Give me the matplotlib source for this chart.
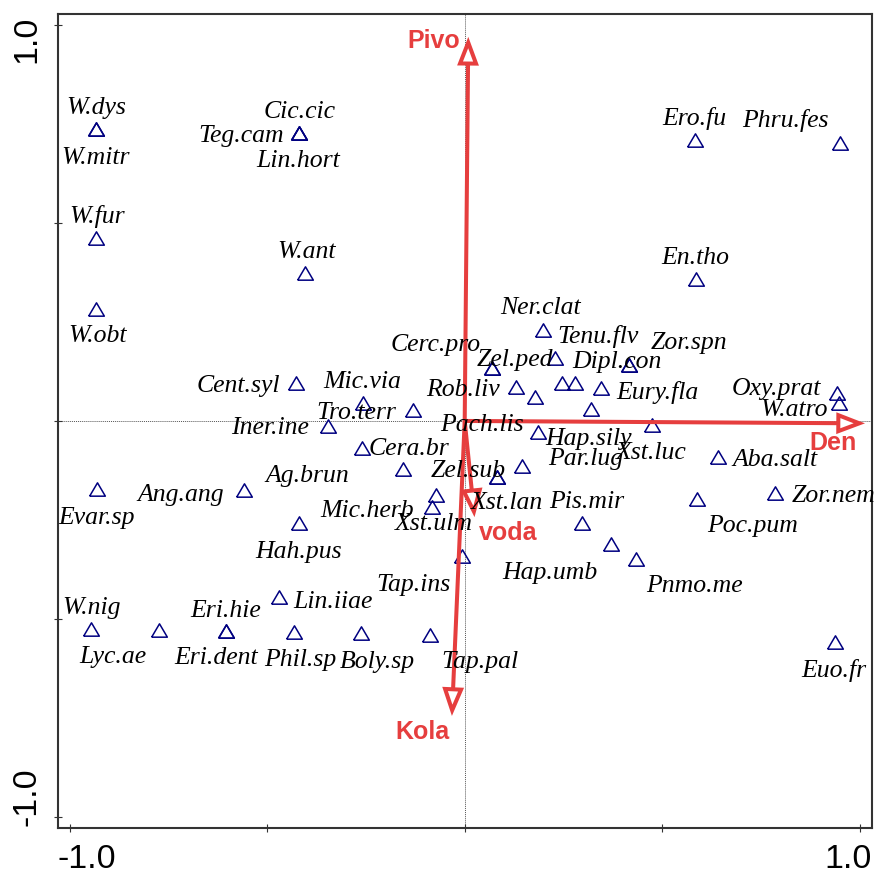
import numpy as np
import matplotlib
matplotlib.use('Agg')
import matplotlib.pyplot as plt
from matplotlib.lines import Line2D
from matplotlib.patches import Polygon
from matplotlib.transforms import IdentityTransform

# species scores on the first two ordination axes
species = ['W.dys', 'W.mitr', 'Cic.cic', 'Teg.cam', 'Lin.hort', 'W.fur', 'W.ant', 'W.obt',
           'Ero.fu', 'Phru.fes', 'En.tho', 'Ner.clat', 'Tenu.flv', 'Cerc.pro', 'Zel.ped',
           'Dipl.con', 'Zor.spn', 'Cent.syl', 'Mic.via', 'Tro.terr', 'Iner.ine', 'Rob.liv',
           'Pach.lis', '', '', 'Eury.fla', '', 'Xst.luc', 'Hap.sily', 'Oxy.prat', 'W.atro',
           'Aba.salt', 'Zor.nem', 'Poc.pum', 'Pis.mir', 'Hap.umb', 'Pnmo.me', 'Cera.br',
           'Ag.brun', 'Par.lug', 'Zel.sub', 'Xst.lan', 'Mic.herb', 'Xst.ulm', 'Tap.ins',
           'Evar.sp', 'Ang.ang', 'Hah.pus', 'Lin.iiae', 'W.nig', 'Lyc.ae', 'Eri.hie',
           'Eri.dent', 'Phil.sp', 'Boly.sp', 'Tap.pal', 'Euo.fr']
sp_x = [-0.933, -0.933, -0.420, -0.420, -0.420, -0.933, -0.403, -0.932,
        0.583, 0.950, 0.585, 0.197, 0.228, 0.070, 0.070,
        0.417, 0.417, -0.426, -0.257, -0.132, -0.346, 0.129,
        0.177, 0.246, 0.279, 0.344, 0.320, 0.473, 0.185, 0.943, 0.948,
        0.642, 0.785, 0.587, 0.298, 0.370, 0.434, -0.260,
        -0.156, 0.145, 0.083, 0.083, -0.073, -0.083, -0.006,
        -0.930, -0.558, -0.419, -0.470, -0.945, -0.774, -0.603,
        -0.603, -0.431, -0.262, -0.089, 0.937]
sp_y = [0.737, 0.737, 0.727, 0.727, 0.727, 0.463, 0.374, 0.282,
        0.710, 0.703, 0.358, 0.230, 0.158, 0.133, 0.133,
        0.141, 0.141, 0.097, 0.045, 0.028, -0.013, 0.085,
        0.060, 0.095, 0.095, 0.083, 0.030, -0.010, -0.027, 0.071, 0.045,
        -0.090, -0.183, -0.198, -0.258, -0.311, -0.349, -0.069,
        -0.122, -0.115, -0.141, -0.141, -0.186, -0.218, -0.341,
        -0.172, -0.174, -0.257, -0.444, -0.526, -0.528, -0.530,
        -0.530, -0.534, -0.536, -0.540, -0.557]

# environmental variables (arrow tips)
env_names = ['Pivo', 'Den', 'Kola', 'voda']
env_x = [0.009, 1.005, -0.032, 0.024]
env_y = [0.962, -0.006, -0.737, -0.235]

# label placement, offsets in pixels from the point
sp_lab_off = [(0, 21), (0, -29), (1, 21), (-58, -3), (-1, -28), (1, 21), (1, 21), (1, -27),
              (-1, 21), (-55, 22), (-1, 21), (-2, 22), (43, 22), (-57, 23), (23, 8),
              (-12, 3), (60, 22), (-58, -3), (-1, 21), (-56, -3), (-58, -2), (-53, -3),
              (-53, -28), (0, 0), (0, 0), (57, -4), (0, 0), (0, -28), (51, -7), (-61, 4), (-45, -7),
              (57, -3), (59, -3), (56, -27), (4, 21), (-61, -29), (58, -27), (47, -1),
              (-96, -7), (64, 7), (-29, 6), (9, -26), (-69, -16), (2, -17), (-49, -29),
              (-1, -29), (-63, -5), (-1, -29), (54, -5), (0, 21), (-46, -27), (-1, 20),
              (-10, -27), (6, -28), (16, -29), (50, -27), (-1, -29)]
env_lab_off = [(-35, -1), (-29, -20), (-30, -19), (34, -19)]

red = '#E63E3E'
navy = '#000080'

fig = plt.figure(figsize=(8.8, 8.75), dpi=100)
ax = fig.add_axes([57.7 / 880, 47 / 875, 814 / 880, 813.7 / 875])
ax.set_xlim(-1.03, 1.03)
ax.set_ylim(-1.028, 1.027)

for s in ax.spines.values():
    s.set_color('#333333')
    s.set_linewidth(1.5)
ticks = [-1.0, -0.5, 0.0, 0.5, 1.0]
ax.set_xticks(ticks)
ax.set_yticks(ticks)
ax.set_xticklabels([])
ax.set_yticklabels([])
ax.tick_params(direction='inout', length=6, width=0.8, color='#333333')

ax.axhline(0, color='#555555', lw=0.7, ls=(0, (1, 1)), zorder=1)
ax.axvline(0, color='#555555', lw=0.7, ls=(0, (1, 1)), zorder=1)

tri = [(-1, -0.85), (1, -0.85), (0, 0.85), (-1, -0.85)]
ax.plot(sp_x, sp_y, ls='none', marker=tri, ms=11.3, mfc='none', mec=navy, mew=1.1, zorder=3)

# arrows drawn in pixel space so the open heads keep their shape
head_len, head_hw = 21, 8
o = ax.transData.transform((0, 0))
for x, y in zip(env_x, env_y):
    p = ax.transData.transform((x, y))
    u = (p - o) / np.hypot(*(p - o))
    n = np.array([-u[1], u[0]])
    tip = p - u * 2.5
    base = tip - u * head_len
    ax.add_line(Line2D([o[0], base[0]], [o[1], base[1]], transform=IdentityTransform(),
                       color=red, lw=2.9, solid_capstyle='butt', zorder=4, clip_on=False))
    ax.add_patch(Polygon([tip, base + n * head_hw, base - n * head_hw], closed=True,
                         transform=IdentityTransform(), fc='white', ec=red, lw=2.9,
                         joinstyle='miter', zorder=5, clip_on=False))

for name, x, y, off in zip(species, sp_x, sp_y, sp_lab_off):
    if name:
        ax.annotate(name, (x, y), xytext=off, textcoords='offset pixels',
                    ha='center', va='center', fontsize=18.5, style='italic',
                    family='Liberation Serif', zorder=6)

for name, x, y, off in zip(env_names, env_x, env_y, env_lab_off):
    ax.annotate(name, (x, y), xytext=off, textcoords='offset pixels',
                ha='center', va='center', fontsize=18, weight='bold',
                family='Liberation Sans', color=red, zorder=7)

tk = dict(fontsize=24.5, family='Liberation Sans')
fig.text(57.5 / 880, 0.5 / 875, '-1.0', ha='left', va='bottom', **tk)
fig.text(871.5 / 880, 0.5 / 875, '1.0', ha='right', va='bottom', **tk)
fig.text(27 / 880, 1 - 16 / 875, '1.0', rotation=90, ha='center', va='top', **tk)
fig.text(27 / 880, 1 - 826 / 875, '-1.0', rotation=90, ha='center', va='bottom', **tk)

fig.savefig('out.png', dpi=100)
